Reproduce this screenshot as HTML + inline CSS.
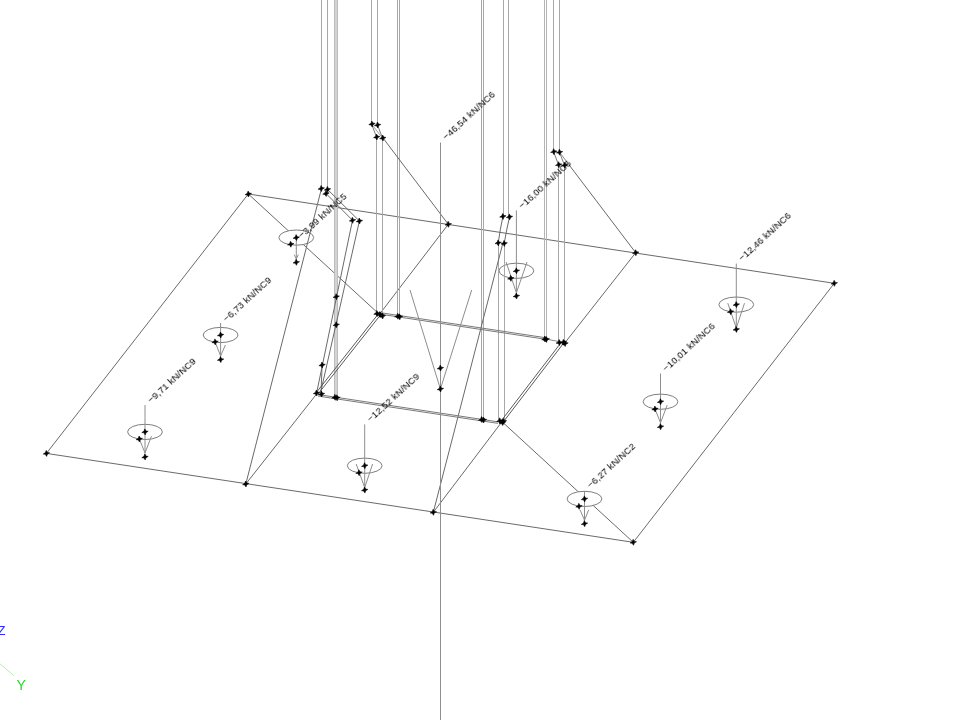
<!DOCTYPE html>
<html><head><meta charset="utf-8"><style>
html,body{margin:0;padding:0;background:#fff;width:960px;height:720px;overflow:hidden}
svg{display:block}
text{font-family:"Liberation Sans",sans-serif;font-size:9.5px;letter-spacing:0.15px;fill:#000}
</style></head><body>
<svg width="960" height="720" viewBox="0 0 960 720">
<defs><path id="m" d="M-3.2 0.7 L-1.0 -0.8 L-0.2 -3.0 L1.1 -0.9 L3.2 -0.6 L1.0 0.8 L0.2 3.0 L-1.1 0.9 Z" fill="#000" stroke="#000" stroke-width="0.55" stroke-linejoin="round"/></defs>
<line x1="248.3" y1="194" x2="834.3" y2="283.3" stroke="#6a6a6a" stroke-width="1"/>
<line x1="46.4" y1="453.4" x2="633.3" y2="542.3" stroke="#6a6a6a" stroke-width="1"/>
<line x1="46.4" y1="453.4" x2="248.3" y2="194" stroke="#6a6a6a" stroke-width="1"/>
<line x1="834.3" y1="283.3" x2="633.3" y2="542.3" stroke="#6a6a6a" stroke-width="1"/>
<line x1="248.3" y1="194" x2="379.4" y2="314.4" stroke="#6a6a6a" stroke-width="1"/>
<line x1="448.3" y1="224.3" x2="379.4" y2="314.4" stroke="#6a6a6a" stroke-width="1"/>
<line x1="635.7" y1="252.7" x2="565.3" y2="342.3" stroke="#6a6a6a" stroke-width="1"/>
<line x1="245.8" y1="484" x2="317" y2="393.5" stroke="#6a6a6a" stroke-width="1"/>
<line x1="433.3" y1="512.3" x2="502" y2="421.7" stroke="#6a6a6a" stroke-width="1"/>
<line x1="633.3" y1="542.3" x2="502" y2="421.7" stroke="#6a6a6a" stroke-width="1"/>
<ellipse cx="296.3" cy="237.6" rx="17.4" ry="7.6" fill="#fff" stroke="#7e7e7e"/>
<ellipse cx="516.4" cy="270.8" rx="17.4" ry="7.6" fill="#fff" stroke="#7e7e7e"/>
<ellipse cx="736.3" cy="304.6" rx="17.4" ry="7.6" fill="#fff" stroke="#7e7e7e"/>
<ellipse cx="660.5" cy="401.7" rx="17.4" ry="7.6" fill="#fff" stroke="#7e7e7e"/>
<ellipse cx="584.5" cy="498.9" rx="17.4" ry="7.6" fill="#fff" stroke="#7e7e7e"/>
<ellipse cx="220.6" cy="335" rx="17.4" ry="7.6" fill="#fff" stroke="#7e7e7e"/>
<ellipse cx="145" cy="431.9" rx="17.4" ry="7.6" fill="#fff" stroke="#7e7e7e"/>
<ellipse cx="364.7" cy="465.7" rx="17.4" ry="7.6" fill="#fff" stroke="#7e7e7e"/>
<line x1="321.5" y1="0" x2="321.5" y2="188.5" stroke="#a8a8a8" stroke-width="1"/>
<line x1="327.5" y1="0" x2="327.5" y2="189.4" stroke="#a8a8a8" stroke-width="1"/>
<line x1="371.5" y1="0" x2="371.5" y2="124" stroke="#a8a8a8" stroke-width="1"/>
<line x1="377.5" y1="0" x2="377.5" y2="125" stroke="#a8a8a8" stroke-width="1"/>
<line x1="503.5" y1="0" x2="503.5" y2="216.4" stroke="#a8a8a8" stroke-width="1"/>
<line x1="508.5" y1="0" x2="508.5" y2="216.9" stroke="#a8a8a8" stroke-width="1"/>
<line x1="553.5" y1="0" x2="553.5" y2="151.7" stroke="#a8a8a8" stroke-width="1"/>
<line x1="559.5" y1="0" x2="559.5" y2="152.2" stroke="#a8a8a8" stroke-width="1"/>
<rect x="334" y="0" width="4" height="397" fill="#d4d4d4"/>
<line x1="334.5" y1="0" x2="334.5" y2="397" stroke="#bcbcbc" stroke-width="1"/>
<line x1="337.5" y1="0" x2="337.5" y2="397" stroke="#bcbcbc" stroke-width="1"/>
<line x1="397.5" y1="0" x2="397.5" y2="316" stroke="#a8a8a8" stroke-width="1"/>
<line x1="399.5" y1="0" x2="399.5" y2="316" stroke="#a8a8a8" stroke-width="1"/>
<line x1="481.5" y1="0" x2="481.5" y2="419" stroke="#a8a8a8" stroke-width="1"/>
<line x1="483.5" y1="0" x2="483.5" y2="419" stroke="#a8a8a8" stroke-width="1"/>
<line x1="544.5" y1="0" x2="544.5" y2="339" stroke="#b4b4b4" stroke-width="1"/>
<line x1="546.5" y1="0" x2="546.5" y2="339" stroke="#b4b4b4" stroke-width="1"/>
<line x1="376.5" y1="137" x2="376.5" y2="313" stroke="#a8a8a8" stroke-width="1"/>
<line x1="382.5" y1="138" x2="382.5" y2="313" stroke="#a8a8a8" stroke-width="1"/>
<line x1="498.5" y1="243" x2="498.5" y2="420" stroke="#a8a8a8" stroke-width="1"/>
<line x1="504.5" y1="243.4" x2="504.5" y2="420" stroke="#a8a8a8" stroke-width="1"/>
<line x1="558.5" y1="164.7" x2="558.5" y2="342" stroke="#a8a8a8" stroke-width="1"/>
<line x1="564.5" y1="165.3" x2="564.5" y2="342" stroke="#a8a8a8" stroke-width="1"/>
<line x1="371.5" y1="124" x2="376.5" y2="137" stroke="#7a7a7a" stroke-width="1"/>
<line x1="377.5" y1="125" x2="382.5" y2="138" stroke="#7a7a7a" stroke-width="1"/>
<line x1="371.5" y1="124" x2="382.5" y2="138" stroke="#a0a0a0" stroke-width="1"/>
<line x1="553.5" y1="151.7" x2="558.5" y2="164.7" stroke="#7a7a7a" stroke-width="1"/>
<line x1="559.5" y1="152.2" x2="564.5" y2="165.3" stroke="#7a7a7a" stroke-width="1"/>
<path d="M502.9 216.4 Q500 230 498.2 243" fill="none" stroke="#6a6a6a"/>
<path d="M509.5 216.9 Q506.5 230 504.2 243.4" fill="none" stroke="#6a6a6a"/>
<line x1="327.5" y1="189.4" x2="359.4" y2="221" stroke="#6a6a6a" stroke-width="1"/>
<line x1="326" y1="193.5" x2="352.5" y2="220.3" stroke="#6a6a6a" stroke-width="1"/>
<line x1="352.5" y1="220.3" x2="316.5" y2="393.5" stroke="#6a6a6a" stroke-width="1"/>
<line x1="359.4" y1="221" x2="320.6" y2="392.5" stroke="#6a6a6a" stroke-width="1"/>
<line x1="322.1" y1="365" x2="321" y2="393" stroke="#6a6a6a" stroke-width="1"/>
<line x1="245.8" y1="484" x2="321.5" y2="188.5" stroke="#6a6a6a" stroke-width="1"/>
<line x1="433.3" y1="512.3" x2="502.8" y2="243.4" stroke="#6a6a6a" stroke-width="1"/>
<line x1="383" y1="138" x2="448.3" y2="224.3" stroke="#6a6a6a" stroke-width="1"/>
<line x1="569" y1="164.8" x2="635.7" y2="252.7" stroke="#6a6a6a" stroke-width="1"/>
<line x1="559.5" y1="152.2" x2="569" y2="164.8" stroke="#8a8a8a" stroke-width="1"/>
<line x1="379.29" y1="314.04" x2="544.89" y2="339.14" stroke="#7a7a7a" stroke-width="1"/>
<line x1="379.51" y1="312.56" x2="545.11" y2="337.66" stroke="#7a7a7a" stroke-width="1"/>
<line x1="546" y1="339" x2="560" y2="341.8" stroke="#8a8a8a" stroke-width="1"/>
<line x1="378.5" y1="313.69" x2="316.1" y2="392.79" stroke="#5a5a5a" stroke-width="1"/>
<line x1="380.3" y1="315.11" x2="317.9" y2="394.21" stroke="#5a5a5a" stroke-width="1"/>
<line x1="317.89" y1="396.04" x2="497.89" y2="423.34" stroke="#7a7a7a" stroke-width="1"/>
<line x1="318.11" y1="394.56" x2="498.11" y2="421.86" stroke="#7a7a7a" stroke-width="1"/>
<line x1="561.09" y1="342.6" x2="501.09" y2="421.0" stroke="#5a5a5a" stroke-width="1"/>
<line x1="562.91" y1="344.0" x2="502.91" y2="422.4" stroke="#5a5a5a" stroke-width="1"/>
<line x1="440.5" y1="142.5" x2="440.5" y2="720" stroke="#8e8e8e" stroke-width="1"/>
<line x1="410" y1="290" x2="440.4" y2="389" stroke="#8e8e8e" stroke-width="1"/>
<line x1="471.7" y1="290" x2="440.4" y2="389" stroke="#8e8e8e" stroke-width="1"/>
<line x1="296.3" y1="237.6" x2="296.3" y2="262.3" stroke="#8e8e8e" stroke-width="1"/>
<line x1="294.2" y1="254.6" x2="296.3" y2="258.9" stroke="#8e8e8e" stroke-width="1"/>
<line x1="298.40000000000003" y1="254.6" x2="296.3" y2="258.9" stroke="#8e8e8e" stroke-width="1"/>
<line x1="516.4" y1="210.4" x2="516.4" y2="296" stroke="#8e8e8e" stroke-width="1"/>
<line x1="506.1" y1="262" x2="516.4" y2="292.8" stroke="#8e8e8e" stroke-width="1"/>
<line x1="527" y1="262" x2="516.4" y2="292.8" stroke="#8e8e8e" stroke-width="1"/>
<line x1="736.3" y1="263.5" x2="736.3" y2="329.4" stroke="#8e8e8e" stroke-width="1"/>
<line x1="727.8" y1="303.2" x2="736.3" y2="328" stroke="#8e8e8e" stroke-width="1"/>
<line x1="744.5" y1="303.2" x2="736.3" y2="328" stroke="#8e8e8e" stroke-width="1"/>
<line x1="660.5" y1="373.5" x2="660.5" y2="426.7" stroke="#8e8e8e" stroke-width="1"/>
<line x1="655" y1="409" x2="660.5" y2="422.8" stroke="#8e8e8e" stroke-width="1"/>
<line x1="667.2" y1="405.1" x2="660.5" y2="422.8" stroke="#8e8e8e" stroke-width="1"/>
<line x1="584.5" y1="491" x2="584.5" y2="523.7" stroke="#8e8e8e" stroke-width="1"/>
<line x1="580" y1="509.8" x2="584.5" y2="520.2" stroke="#8e8e8e" stroke-width="1"/>
<line x1="588.7" y1="509.8" x2="584.5" y2="520.2" stroke="#8e8e8e" stroke-width="1"/>
<line x1="220.6" y1="323" x2="220.6" y2="359.6" stroke="#8e8e8e" stroke-width="1"/>
<line x1="215.1" y1="341.9" x2="220.6" y2="356" stroke="#8e8e8e" stroke-width="1"/>
<line x1="225.4" y1="345" x2="220.6" y2="356" stroke="#8e8e8e" stroke-width="1"/>
<line x1="145" y1="405" x2="145" y2="457" stroke="#8e8e8e" stroke-width="1"/>
<line x1="139.3" y1="439" x2="145" y2="452.9" stroke="#8e8e8e" stroke-width="1"/>
<line x1="151.5" y1="436.2" x2="145" y2="452.9" stroke="#8e8e8e" stroke-width="1"/>
<line x1="364.7" y1="424.4" x2="364.7" y2="490" stroke="#8e8e8e" stroke-width="1"/>
<line x1="356.2" y1="464" x2="364.7" y2="487.6" stroke="#8e8e8e" stroke-width="1"/>
<line x1="372.6" y1="464" x2="364.7" y2="487.6" stroke="#8e8e8e" stroke-width="1"/>
<use href="#m" transform="translate(440.4 368.1) rotate(0) scale(1.0)"/>
<use href="#m" transform="translate(440.4 389) rotate(0) scale(1.0)"/>
<use href="#m" transform="translate(248.3 194) rotate(0) scale(1.0)"/>
<use href="#m" transform="translate(448.3 224.3) rotate(0) scale(1.0)"/>
<use href="#m" transform="translate(635.7 252.7) rotate(0) scale(1.0)"/>
<use href="#m" transform="translate(834.3 283.3) rotate(0) scale(1.0)"/>
<use href="#m" transform="translate(46.4 453.4) rotate(0) scale(1.0)"/>
<use href="#m" transform="translate(245.8 484) rotate(0) scale(1.0)"/>
<use href="#m" transform="translate(433.3 512.3) rotate(0) scale(1.0)"/>
<use href="#m" transform="translate(633.3 542.3) rotate(0) scale(1.0)"/>
<use href="#m" transform="translate(377 313.5) rotate(0) scale(1.0)"/>
<use href="#m" transform="translate(380 314.5) rotate(0) scale(1.0)"/>
<use href="#m" transform="translate(382.5 316) rotate(0) scale(1.0)"/>
<use href="#m" transform="translate(397.8 316.2) rotate(0) scale(1.0)"/>
<use href="#m" transform="translate(399.6 316.8) rotate(0) scale(1.0)"/>
<use href="#m" transform="translate(316.5 393) rotate(0) scale(1.0)"/>
<use href="#m" transform="translate(321.5 394) rotate(0) scale(1.0)"/>
<use href="#m" transform="translate(335 397.3) rotate(0) scale(1.0)"/>
<use href="#m" transform="translate(337 397.8) rotate(0) scale(1.0)"/>
<use href="#m" transform="translate(481.7 419.5) rotate(0) scale(1.0)"/>
<use href="#m" transform="translate(483.5 420) rotate(0) scale(1.0)"/>
<use href="#m" transform="translate(499.8 420.8) rotate(0) scale(1.0)"/>
<use href="#m" transform="translate(502.5 422.5) rotate(0) scale(1.0)"/>
<use href="#m" transform="translate(503.5 421.3) rotate(0) scale(1.0)"/>
<use href="#m" transform="translate(544.9 339) rotate(0) scale(1.0)"/>
<use href="#m" transform="translate(546.3 339.4) rotate(0) scale(1.0)"/>
<use href="#m" transform="translate(559.3 342.5) rotate(0) scale(1.0)"/>
<use href="#m" transform="translate(563.5 342.3) rotate(0) scale(1.0)"/>
<use href="#m" transform="translate(565 343.5) rotate(0) scale(1.0)"/>
<use href="#m" transform="translate(321.25 188.5) rotate(0) scale(1.0)"/>
<use href="#m" transform="translate(327.5 189.4) rotate(0) scale(1.0)"/>
<use href="#m" transform="translate(326 193.5) rotate(0) scale(1.0)"/>
<use href="#m" transform="translate(352.5 220.3) rotate(0) scale(1.0)"/>
<use href="#m" transform="translate(359.4 221) rotate(0) scale(1.0)"/>
<use href="#m" transform="translate(336.25 296.7) rotate(0) scale(1.0)"/>
<use href="#m" transform="translate(336.25 324.8) rotate(0) scale(1.0)"/>
<use href="#m" transform="translate(322.1 365) rotate(0) scale(1.0)"/>
<use href="#m" transform="translate(372 124) rotate(0) scale(1.0)"/>
<use href="#m" transform="translate(377.6 125) rotate(0) scale(1.0)"/>
<use href="#m" transform="translate(376.7 137) rotate(0) scale(1.0)"/>
<use href="#m" transform="translate(382.8 138) rotate(0) scale(1.0)"/>
<use href="#m" transform="translate(553.8 151.7) rotate(0) scale(1.0)"/>
<use href="#m" transform="translate(559.5 152.2) rotate(0) scale(1.0)"/>
<use href="#m" transform="translate(558.7 164.7) rotate(0) scale(1.0)"/>
<use href="#m" transform="translate(564.7 165.3) rotate(0) scale(1.0)"/>
<use href="#m" transform="translate(502.9 216.4) rotate(0) scale(1.0)"/>
<use href="#m" transform="translate(509.5 216.9) rotate(0) scale(1.0)"/>
<use href="#m" transform="translate(498.2 242.9) rotate(0) scale(1.0)"/>
<use href="#m" transform="translate(504.2 243.4) rotate(0) scale(1.0)"/>
<use href="#m" transform="translate(296.3 237.6) rotate(0) scale(1.0)"/>
<use href="#m" transform="translate(290.7 244.2) rotate(0) scale(1.0)"/>
<use href="#m" transform="translate(296.3 262.3) rotate(0) scale(1.0)"/>
<use href="#m" transform="translate(516.4 270.8) rotate(0) scale(1.0)"/>
<use href="#m" transform="translate(510.8 278.3) rotate(0) scale(1.0)"/>
<use href="#m" transform="translate(516.4 296) rotate(0) scale(1.0)"/>
<use href="#m" transform="translate(736.3 304.6) rotate(0) scale(1.0)"/>
<use href="#m" transform="translate(730.6 311.7) rotate(0) scale(1.0)"/>
<use href="#m" transform="translate(736.3 329.4) rotate(0) scale(1.0)"/>
<use href="#m" transform="translate(660.5 401.7) rotate(0) scale(1.0)"/>
<use href="#m" transform="translate(655 409) rotate(0) scale(1.0)"/>
<use href="#m" transform="translate(660.5 426.7) rotate(0) scale(1.0)"/>
<use href="#m" transform="translate(584.5 498.9) rotate(0) scale(1.0)"/>
<use href="#m" transform="translate(579 506.3) rotate(0) scale(1.0)"/>
<use href="#m" transform="translate(584.5 523.7) rotate(0) scale(1.0)"/>
<use href="#m" transform="translate(220.6 335) rotate(0) scale(1.0)"/>
<use href="#m" transform="translate(215.1 341.9) rotate(0) scale(1.0)"/>
<use href="#m" transform="translate(220.6 359.6) rotate(0) scale(1.0)"/>
<use href="#m" transform="translate(145 431.9) rotate(0) scale(1.0)"/>
<use href="#m" transform="translate(139.3 439) rotate(0) scale(1.0)"/>
<use href="#m" transform="translate(145 457) rotate(0) scale(1.0)"/>
<use href="#m" transform="translate(364.7 465.7) rotate(0) scale(1.0)"/>
<use href="#m" transform="translate(359 472.7) rotate(0) scale(1.0)"/>
<use href="#m" transform="translate(364.7 490) rotate(0) scale(1.0)"/>
<g style="will-change:transform"><text transform="translate(446.2 140.6) rotate(-42.5)">−46,54 kN/NC6</text>
<text transform="translate(301.9 238.8) rotate(-42.5)">−3,99 kN/NC5</text>
<text transform="translate(522.2 209.5) rotate(-42.5)">−16,00 kN/NC6</text>
<text transform="translate(742.15 261.75) rotate(-42.5)">−12,46 kN/NC6</text>
<text transform="translate(666.15 372.2) rotate(-42.5)">−10,01 kN/NC6</text>
<text transform="translate(590.6 488.8) rotate(-42.5)">−6,27 kN/NC2</text>
<text transform="translate(226.6 322.5) rotate(-42.5)">−6,73 kN/NC9</text>
<text transform="translate(151.1 403.7) rotate(-42.5)">−9,71 kN/NC9</text>
<text transform="translate(370.65 422.6) rotate(-42.5)">−12,52 kN/NC9</text>
<text x="-2.5" y="635" style="font-size:13px;letter-spacing:0;fill:#2a2aff">Z</text>
<text x="16.5" y="690" style="font-size:14px;letter-spacing:0;fill:#22dd22">Y</text></g>
<line x1="-1" y1="663" x2="14" y2="675.7" stroke="#b0f0b0" stroke-width="1"/>
</svg></body></html>
